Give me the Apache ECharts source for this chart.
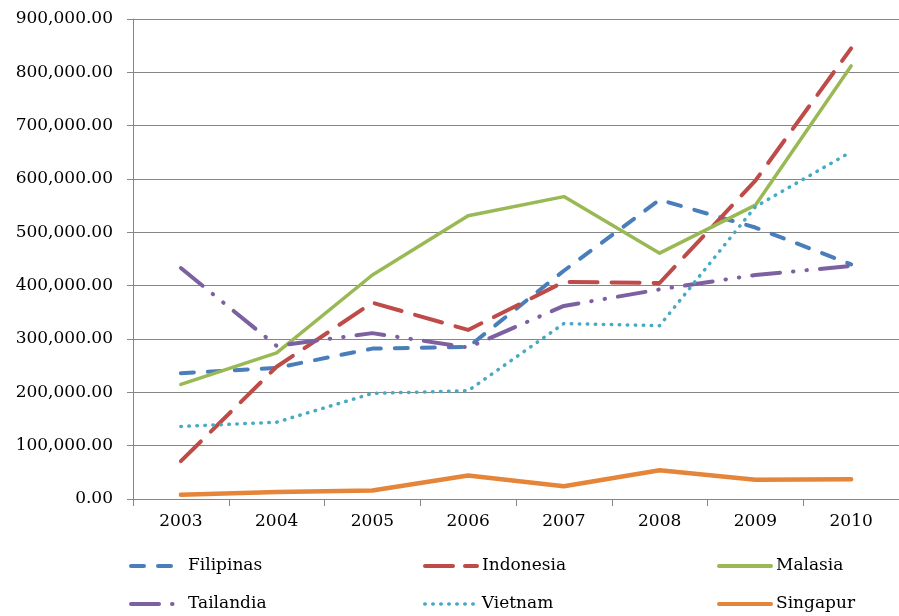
<!DOCTYPE html>
<html>
<head>
<meta charset="utf-8">
<script src="https://cdn.jsdelivr.net/npm/echarts@6/dist/echarts.min.js"></script>
<style>
html,body{margin:0;padding:0;background:#fff;}
#c{width:899px;height:616px;}
</style>
</head>
<body>
<div id="c"></div>
<script>
var years = ['2003','2004','2005','2006','2007','2008','2009','2010'];
var filipinas = [236000, 246000, 282000, 285000, 428000, 561000, 509000, 440000];
var indonesia = [71000, 248000, 368000, 317000, 407000, 405000, 597000, 845000];
var malasia   = [215000, 274000, 420000, 531000, 567000, 461000, 551000, 812000];
var tailandia = [433000, 287000, 311000, 284000, 362000, 393000, 420000, 437000];
var vietnam   = [136000, 144000, 198000, 203000, 329000, 325000, 548000, 651000];
var singapur  = [8000, 13000, 16000, 44000, 24000, 54000, 36000, 37000];

var FONT = '"DejaVu Serif", "Liberation Serif", serif';
var chart = echarts.init(document.getElementById('c'), null, {renderer:'canvas'});

function fmt(v){
  var s = Math.round(v).toString().replace(/\B(?=(\d{3})+(?!\d))/g, ',');
  return s + '.00';
}

function ser(name, data, color, width, dash){
  return {
    name: name, type: 'line', data: data, symbol: 'none', smooth: false,
    lineStyle: {color: color, width: width, type: dash, cap: 'round', join: 'round'},
    itemStyle: {color: color},
    emphasis: {disabled: true}
  };
}

var legendText = {fontFamily: FONT, fontSize: 17, color: '#000', lineHeight: 20};
function leg(left, top, name, w, dash){
  return {
    orient: 'horizontal', left: left, top: top, itemWidth: 52, itemHeight: 14,
    textStyle: legendText, data: [name], selectedMode: false,
    itemStyle: {opacity: 0},
    lineStyle: {width: w, type: dash, cap: 'round'}
  };
}

chart.setOption({
  animation: false,
  backgroundColor: '#fff',
  grid: {left: 133, top: 19, width: 792, bottom: 117, containLabel: false},
  legend: [
    leg(124, 551, 'Filipinas', 4, [13, 14]),
    leg(124, 589, 'Tailandia', 4, [28, 13, 0.5, 13]),
    leg(418, 551, 'Indonesia', 4, [28, 12]),
    leg(418, 589, 'Vietnam', 3.5, [0.5, 7.5]),
    leg(712, 551, 'Malasia', 4, 'solid'),
    leg(712, 589, 'Singapur', 4, 'solid')
  ],
  xAxis: {
    type: 'category', data: years, boundaryGap: true,
    axisLine: {lineStyle: {color: '#868686', width: 1}},
    axisTick: {show: true, length: 7, inside: false, lineStyle: {color: '#868686'}},
    axisLabel: {fontFamily: FONT, fontSize: 17, color: '#000', margin: 14}
  },
  yAxis: {
    type: 'value', min: 0, max: 900000, interval: 100000,
    axisLine: {show: true, lineStyle: {color: '#868686', width: 1}},
    axisTick: {show: true, length: 6, lineStyle: {color: '#868686'}},
    splitLine: {show: true, lineStyle: {color: '#868686', width: 1}},
    axisLabel: {fontFamily: FONT, fontSize: 17, color: '#000', margin: 20, formatter: fmt}
  },
  series: [
    ser('Filipinas', filipinas, '#4A7EBB', 4, [13, 14]),
    ser('Indonesia', indonesia, '#BE4B48', 4, [28, 14]),
    ser('Malasia', malasia, '#98B954', 3.5, 'solid'),
    ser('Tailandia', tailandia, '#7D60A0', 4, [28, 13, 0.5, 13, 0.5, 13]),
    ser('Vietnam', vietnam, '#46AAC5', 3.5, [0.5, 7.5]),
    ser('Singapur', singapur, '#E5853A', 4.5, 'solid')
  ]
});
</script>
</body>
</html>
